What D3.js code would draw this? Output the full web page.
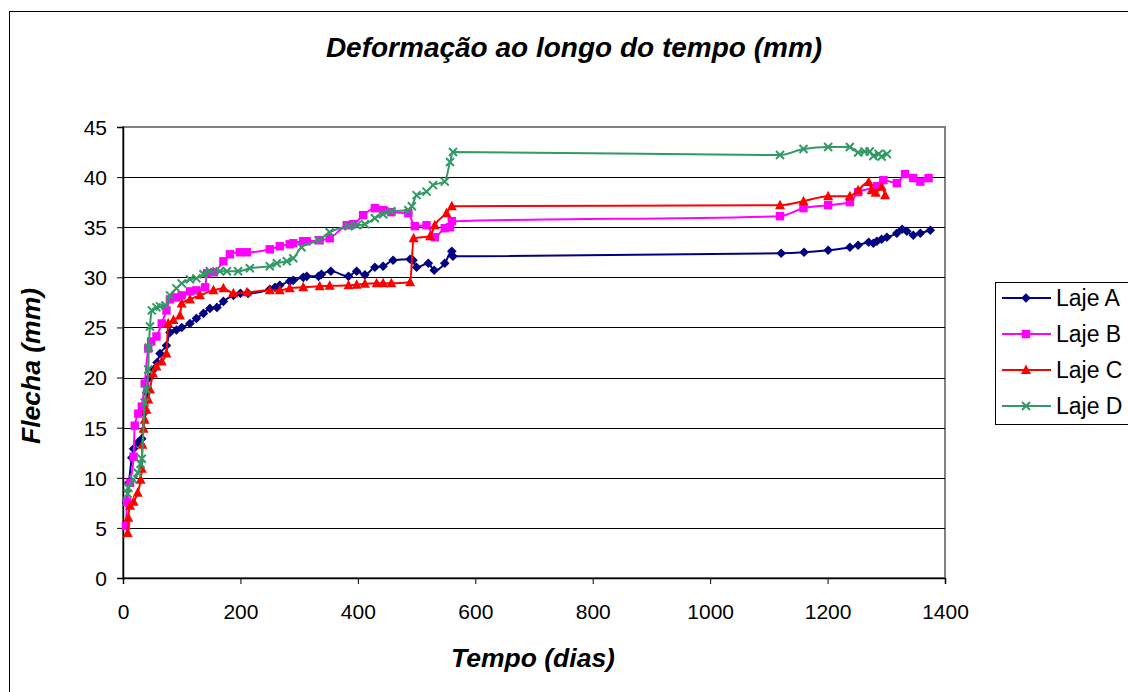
<!DOCTYPE html>
<html>
<head>
<meta charset="utf-8">
<script src="https://cdn.jsdelivr.net/npm/d3@7"></script>
<style>
  html, body { margin: 0; padding: 0; background: #fff; }
  svg { display: block; font-family: "Liberation Sans", Arial, sans-serif; }
</style>
</head>
<body>
<svg id="chart" width="1128" height="692"></svg>
<script>
// Measured deflection (mm) per slab, against time (days)
const lajeADias = [6, 10, 15, 18, 25, 32, 36, 40, 45, 52, 58, 63, 74, 80, 91, 100, 114, 125, 137, 148, 160, 171, 188, 200, 213, 250, 259, 267, 284, 290, 307, 313, 333, 338, 354, 384, 398, 412, 429, 443, 460, 489, 494, 500, 520, 530, 548, 560, 562, 1121, 1160, 1201, 1238, 1252, 1270, 1278, 1284, 1292, 1301, 1318, 1327, 1335, 1346, 1358, 1375];
const lajeAFlecha = [7.5, 9.5, 12.0, 12.9, 13.5, 13.9, 16.5, 18.5, 20.0, 20.8, 21.5, 22.4, 23.2, 24.5, 24.75, 25.0, 25.4, 25.9, 26.4, 26.9, 27.0, 27.6, 28.2, 28.4, 28.4, 28.8, 29.0, 29.2, 29.6, 29.7, 30.0, 30.1, 30.1, 30.3, 30.6, 30.1, 30.6, 30.25, 31.0, 31.1, 31.7, 31.8, 31.7, 31.0, 31.4, 30.7, 31.4, 32.6, 32.1, 32.4, 32.5, 32.7, 33.0, 33.2, 33.5, 33.4, 33.6, 33.8, 34.0, 34.4, 34.8, 34.6, 34.2, 34.4, 34.7];

const lajeBDias = [5, 7, 12, 18, 20, 26, 32, 37, 43, 48, 57, 66, 74, 80, 90, 100, 114, 125, 140, 143, 155, 171, 182, 199, 211, 250, 267, 284, 290, 307, 313, 335, 352, 381, 392, 409, 429, 443, 457, 486, 497, 517, 531, 548, 557, 560, 1119, 1159, 1201, 1238, 1252, 1284, 1295, 1318, 1332, 1346, 1358, 1372];
const lajeBFlecha = [5.2, 7.6, 9.5, 12.1, 15.2, 16.4, 17.1, 19.4, 22.9, 23.6, 24.1, 25.4, 26.7, 27.8, 28.0, 28.2, 28.6, 28.7, 29.0, 30.4, 30.5, 31.6, 32.3, 32.5, 32.5, 32.8, 33.1, 33.3, 33.4, 33.6, 33.6, 33.7, 33.9, 35.2, 35.3, 36.2, 36.9, 36.7, 36.5, 36.4, 35.1, 35.2, 34.0, 34.9, 35.0, 35.6, 36.1, 36.9, 37.2, 37.5, 38.5, 39.1, 39.7, 39.4, 40.3, 39.9, 39.55, 39.9];

const lajeCDias = [8, 9, 12, 18, 25, 30, 32, 33, 35, 37, 40, 43, 46, 51, 57, 66, 74, 77, 86, 97, 100, 114, 131, 154, 171, 188, 211, 250, 267, 284, 307, 335, 352, 384, 398, 412, 432, 443, 457, 489, 495, 523, 531, 551, 560, 1119, 1159, 1201, 1238, 1252, 1270, 1275, 1282, 1292, 1298];
const lajeCFlecha = [4.5, 6.0, 7.2, 7.6, 8.5, 9.8, 10.9, 13.3, 14.9, 15.8, 16.8, 17.8, 18.8, 20.4, 21.1, 21.6, 22.4, 25.4, 25.75, 26.2, 27.4, 27.8, 28.2, 28.7, 28.9, 28.4, 28.5, 28.7, 28.7, 28.9, 29.0, 29.1, 29.15, 29.2, 29.25, 29.35, 29.4, 29.4, 29.4, 29.5, 33.9, 34.1, 35.2, 36.4, 37.1, 37.2, 37.6, 38.1, 38.1, 38.7, 39.5, 38.7, 38.45, 39.05, 38.2];

const lajeDDias = [8, 9, 18, 25, 30, 32, 37, 40, 43, 44, 46, 49, 57, 63, 72, 80, 91, 100, 114, 125, 137, 148, 165, 177, 196, 216, 250, 262, 279, 290, 304, 333, 352, 384, 398, 412, 429, 443, 457, 486, 492, 500, 517, 528, 548, 557, 562, 1119, 1159, 1201, 1238, 1252, 1263, 1272, 1278, 1287, 1292, 1301];
const lajeDFlecha = [8.4, 9.0, 9.8, 10.5, 11.4, 11.9, 17.5, 18.8, 20.8, 23.0, 25.1, 26.7, 27.0, 27.1, 27.2, 28.2, 28.9, 29.4, 29.8, 29.9, 30.3, 30.6, 30.6, 30.6, 30.6, 30.9, 31.1, 31.4, 31.6, 31.9, 33.0, 33.7, 34.5, 35.1, 35.2, 35.3, 35.9, 36.3, 36.6, 36.7, 37.1, 38.2, 38.55, 39.2, 39.55, 41.5, 42.5, 42.2, 42.8, 43.0, 43.0, 42.45, 42.55, 42.55, 42.1, 42.3, 42.05, 42.3];

const serieNomes = ["Laje A", "Laje B", "Laje C", "Laje D"];
const serieCores = ["#000080", "#FF00FF", "#FF0000", "#339966"];
const serieMarcas = ["diamond", "square", "triangle", "cross"];

const xTicks = [0, 200, 400, 600, 800, 1000, 1200, 1400];
const yTicks = [0, 5, 10, 15, 20, 25, 30, 35, 40, 45];

const titulo = "Deformação ao longo do tempo (mm)";
const tituloX = "Tempo (dias)";
const tituloY = "Flecha (mm)";

const series = [
  [lajeADias, lajeAFlecha],
  [lajeBDias, lajeBFlecha],
  [lajeCDias, lajeCFlecha],
  [lajeDDias, lajeDFlecha]
].map(([d, f], i) => ({
  nome: serieNomes[i], cor: serieCores[i], marca: serieMarcas[i],
  pontos: d.map((x, k) => ({ x, y: f[k] }))
}));

const svg = d3.select("#chart");

// outer chart frame (runs past the page edges)
svg.append("rect")
  .attr("x", 9.5).attr("y", 11.5)
  .attr("width", 1300).attr("height", 900)
  .attr("fill", "#fff").attr("stroke", "#000").attr("stroke-width", 1);

const plot = { left: 123, right: 945, top: 127, bottom: 578 };

const x = d3.scaleLinear().domain([0, 1400]).range([plot.left, plot.right]);
const y = d3.scaleLinear().domain([0, 45]).range([plot.bottom, plot.top]);

// plot area border
svg.append("rect")
  .attr("x", plot.left).attr("y", plot.top)
  .attr("width", plot.right - plot.left).attr("height", plot.bottom - plot.top)
  .attr("fill", "#fff").attr("stroke", "#808080").attr("stroke-width", 2);

// horizontal gridlines
svg.append("g").selectAll("line")
  .data(yTicks.filter(t => t > 0 && t < 45))
  .join("line")
  .attr("x1", plot.left).attr("x2", plot.right)
  .attr("y1", d => Math.round(y(d)) + 0.5).attr("y2", d => Math.round(y(d)) + 0.5)
  .attr("stroke", "#000").attr("stroke-width", 1);

// axes
const yAxis = svg.append("g")
  .attr("transform", `translate(${plot.left},0)`)
  .call(d3.axisLeft(y).tickValues(yTicks).tickSize(6).tickPadding(10).tickFormat(d3.format("d")));
const xAxis = svg.append("g")
  .attr("transform", `translate(0,${plot.bottom})`)
  .call(d3.axisBottom(x).tickValues(xTicks).tickSize(6).tickPadding(28).tickFormat(d3.format("d")));

[yAxis, xAxis].forEach(a => {
  a.select(".domain").attr("stroke", "#000").attr("stroke-width", 1.5);
  a.selectAll(".tick line").attr("stroke", "#000");
  a.selectAll(".tick text")
    .attr("font-family", "'Liberation Sans', Arial, sans-serif")
    .attr("font-size", 21).attr("fill", "#000");
});
yAxis.selectAll(".tick text").attr("dy", "0.35em");
xAxis.selectAll(".tick text").attr("dy", "0.35em");

// marker shapes
function marker(sel, tipo, cor) {
  if (tipo === "diamond") {
    sel.append("path").attr("d", "M0,-4.8L4.8,0L0,4.8L-4.8,0Z").attr("fill", cor);
  } else if (tipo === "square") {
    sel.append("rect").attr("x", -4.2).attr("y", -4.2).attr("width", 8.4).attr("height", 8.4).attr("fill", cor);
  } else if (tipo === "triangle") {
    sel.append("path").attr("d", "M0,-5.5L5,4L-5,4Z").attr("fill", cor);
  } else {
    sel.append("path").attr("d", "M-4,-4L4,4M-4,4L4,-4")
      .attr("stroke", cor).attr("stroke-width", 2).attr("fill", "none");
  }
}

const linha = d3.line()
  .x(d => x(d.x)).y(d => y(d.y))
  .curve(d3.curveMonotoneX);

const gSeries = svg.append("g");
series.forEach(s => {
  gSeries.append("path")
    .attr("d", linha(s.pontos))
    .attr("fill", "none").attr("stroke", s.cor).attr("stroke-width", 2);
  gSeries.append("g").selectAll("g")
    .data(s.pontos).join("g")
    .attr("transform", d => `translate(${x(d.x)},${y(d.y)})`)
    .each(function () { marker(d3.select(this), s.marca, s.cor); });
});

// titles
svg.append("text")
  .attr("x", 574).attr("y", 57).attr("text-anchor", "middle")
  .attr("font-size", 28).attr("font-weight", "bold").attr("font-style", "italic")
  .text(titulo);
svg.append("text")
  .attr("x", 533).attr("y", 667).attr("text-anchor", "middle")
  .attr("font-size", 26.5).attr("font-weight", "bold").attr("font-style", "italic")
  .text(tituloX);
svg.append("text")
  .attr("transform", "translate(40,366) rotate(-90)")
  .attr("text-anchor", "middle")
  .attr("font-size", 26.5).attr("font-weight", "bold").attr("font-style", "italic")
  .text(tituloY);

// legend
const leg = svg.append("g");
leg.append("rect")
  .attr("x", 995.5).attr("y", 282.5).attr("width", 200).attr("height", 142)
  .attr("fill", "#fff").attr("stroke", "#000").attr("stroke-width", 1);
const legY = [298, 334, 370, 406];
series.forEach((s, i) => {
  const g = leg.append("g").attr("transform", `translate(0,${legY[i]})`);
  g.append("line").attr("x1", 1002).attr("x2", 1051).attr("y1", 0).attr("y2", 0)
    .attr("stroke", s.cor).attr("stroke-width", 2);
  marker(g.append("g").attr("transform", "translate(1026,0)"), s.marca, s.cor);
  g.append("text").attr("x", 1056).attr("y", 0).attr("dy", "0.36em")
    .attr("font-size", 23).text(s.nome);
});
</script>
</body>
</html>
